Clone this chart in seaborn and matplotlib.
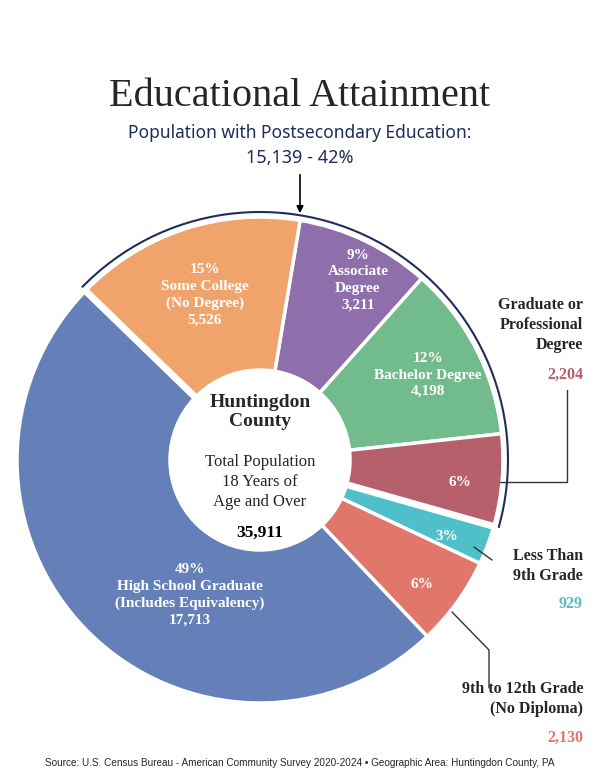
import matplotlib
matplotlib.use("Agg")
import matplotlib.pyplot as plt
from matplotlib.patches import Arc, Circle
import numpy as np
import seaborn as sns

# data, clockwise starting at the top
categories = ["Associate Degree", "Bachelor Degree", "Graduate or Professional Degree",
              "Less Than 9th Grade", "9th to 12th Grade (No Diploma)",
              "High School Graduate", "Some College (No Degree)"]
counts = [3211, 4198, 2204, 929, 2130, 17713, 5526]
pcts = ["9%", "12%", "6%", "3%", "6%", "49%", "15%"]
colors = ["#8e6fac", "#72bb8c", "#b5606a", "#4fbfc9", "#e0776a", "#6580b8", "#f0a46c"]
total = 35911
post_total, post_pct = 15139, "42%"

sns.set_style("white")
SERIF = ["Liberation Serif", "DejaVu Serif"]
SANS = ["Noto Sans", "DejaVu Sans"]
NAVY = "#1f2d5a"

fig = plt.figure(figsize=(6, 7.83), dpi=100)
ax = fig.add_axes([0, 0, 1, 1])

def Y(py):
    return 783 - py

cx, cy, R, r = 260, Y(460), 243, 90
ax.pie(counts, colors=colors, startangle=80.5, counterclock=False, center=(cx, cy),
       radius=R, wedgeprops=dict(width=R - r, edgecolor="white", linewidth=2.5), frame=True)
ax.set_xlim(0, 600)
ax.set_ylim(0, 783)
ax.set_aspect("equal")
ax.axis("off")
ax.add_patch(Circle((cx, cy), r, color="white", zorder=3))

# white gaps around the postsecondary group
ang_start = 80.5 + 360 * counts[6] / total
ang_end = 80.5 - 360 * sum(counts[:3]) / total
for a in [ang_start, ang_end]:
    t = np.radians(a)
    ax.plot([cx + r * np.cos(t), cx + (R + 3) * np.cos(t)],
            [cy + r * np.sin(t), cy + (R + 3) * np.sin(t)], color="white", lw=5, zorder=4)
ax.add_patch(Arc((cx, cy), 2 * (R + 5), 2 * (R + 5), theta1=ang_end, theta2=ang_start,
                 color=NAVY, lw=1.5, zorder=4))

ax.text(300, Y(97), "Educational Attainment", ha="center", va="center", fontsize=29, family=SERIF)
ax.text(300, Y(133), "Population with Postsecondary Education:", ha="center", va="center",
        fontsize=12.5, color=NAVY, family=SANS, weight="semibold")
ax.text(300, Y(158), f"{post_total:,} - {post_pct}", ha="center", va="center",
        fontsize=13, color=NAVY, family=SANS, weight="bold")
ax.annotate("", xy=(300, Y(216)), xytext=(300, Y(172)),
            arrowprops=dict(arrowstyle="-|>", color="black", lw=1.2))

wk = dict(ha="center", va="center", color="white", family=SERIF, weight="bold",
          fontsize=11, linespacing=1.35, zorder=5)
ax.text(205, Y(295), f"{pcts[6]}\nSome College\n(No Degree)\n{counts[6]:,}", **wk)
ax.text(358, Y(280), f"{pcts[0]}\nAssociate\nDegree\n{counts[0]:,}", **wk)
ax.text(428, Y(375), f"{pcts[1]}\nBachelor Degree\n{counts[1]:,}", **wk)
ax.text(460, Y(482), pcts[2], **wk)
ax.text(447, Y(537), pcts[3], **wk)
ax.text(422, Y(585), pcts[4], **wk)
ax.text(190, Y(595), f"{pcts[5]}\nHigh School Graduate\n(Includes Equivalency)\n{counts[5]:,}", **wk)

ax.text(cx, Y(412), "Huntingdon\nCounty", ha="center", va="center", family=SERIF,
        weight="bold", fontsize=14, zorder=5, linespacing=1.2)
ax.text(cx, Y(482), "Total Population\n18 Years of\nAge and Over", ha="center", va="center",
        family=SERIF, fontsize=12, zorder=5, linespacing=1.35)
ax.text(cx, Y(533), f"{total:,}", ha="center", va="center", family=SERIF,
        weight="bold", fontsize=12.5, color="black", zorder=5)

ok = dict(ha="right", va="center", family=SERIF, weight="bold", fontsize=11.5, linespacing=1.3)
ax.text(583, Y(325), "Graduate or\nProfessional\nDegree", **ok)
ax.text(583, Y(375), f"{counts[2]:,}", color=colors[2], **ok)
ax.text(583, Y(566), "Less Than\n9th Grade", **ok)
ax.text(583, Y(604), f"{counts[3]:,}", color=colors[3], **ok)
ax.text(583, Y(699), "9th to 12th Grade\n(No Diploma)", **ok)
ax.text(583, Y(738), f"{counts[4]:,}", color=colors[4], **ok)

lk = dict(color="#333333", lw=1, zorder=5)
ax.plot([567, 567, 500], [Y(390), Y(482), Y(482)], **lk)
ax.plot([474, 492], [Y(547), Y(560)], **lk)
ax.plot([452, 489, 489], [Y(612), Y(650), Y(688)], **lk)

ax.text(300, Y(763), "Source: U.S. Census Bureau - American Community Survey 2020-2024 \u2022 "
        "Geographic Area: Huntingdon County, PA", ha="center", va="center", fontsize=7.2,
        family=["Liberation Sans", "DejaVu Sans"])

fig.savefig("out.png", dpi=100)
